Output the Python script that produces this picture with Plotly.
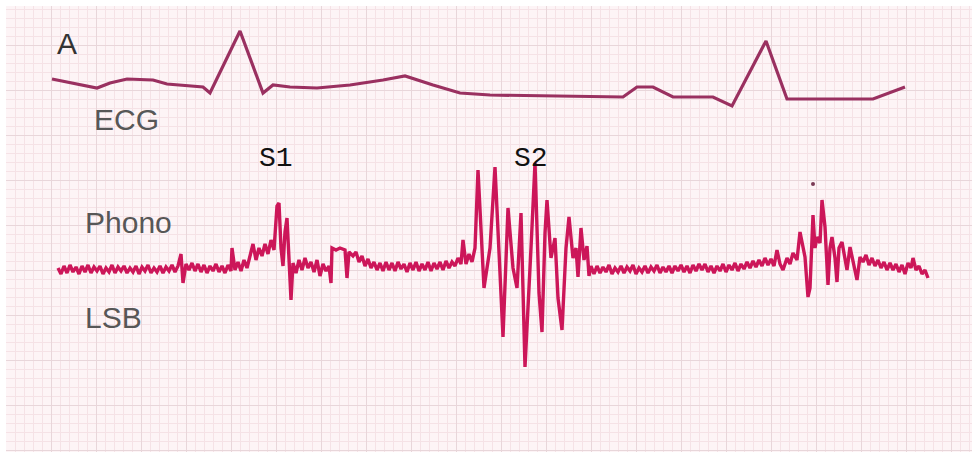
import plotly.graph_objects as go

# ECG lead: time (ms) and voltage (mV)
ecg_t = [52, 97, 110, 127, 153, 167, 203, 210, 240, 263, 273, 290, 317, 350, 383,
         405, 433, 460, 490, 623, 637, 653, 673, 713, 732, 766, 787, 873, 905]
ecg_mv = [0.18, 0.00, 0.10, 0.18, 0.16, 0.08, 0.02, -0.10, 1.14, -0.10, 0.06, 0.02,
          0.00, 0.06, 0.16, 0.24, 0.06, -0.10, -0.14, -0.18, 0.02, 0.02, -0.18,
          -0.18, -0.36, 0.94, -0.22, -0.22, 0.02]

# Phonocardiogram (left sternal border): (time ms, amplitude) samples by segment
pre_s1 = [(58, 0), (61, -6), (64, 2), (67, -5), (70, 3), (73, -4), (76, 1), (79, -6),
          (82, 2), (85, -4), (88, 3), (91, -5), (94, 1), (97, -3), (100, 2), (103, -6),
          (106, 0), (109, -4), (112, 3), (115, -5), (118, 1), (121, -3), (124, 2),
          (127, -5), (130, 0), (133, -4), (136, 2), (139, -6), (142, 1), (145, -3),
          (148, 3), (151, -5), (154, 0), (157, -4), (160, 2), (163, -5), (166, 1),
          (169, -3), (172, 3), (175, -4), (178, 2), (181, 14), (183, -15), (186, 4),
          (189, -2), (192, 5), (195, -3), (198, 4), (201, -4), (204, 3), (207, -5),
          (210, 2), (213, -3), (216, 4), (219, -4), (222, 2), (225, -5), (228, 3),
          (231, -3), (232, 20), (235, -2), (238, 6), (241, -3), (244, 8), (247, 0),
          (250, 12)]
s1 = [(253, 24), (256, 8), (259, 20), (262, 12), (265, 24), (268, 14), (271, 28),
      (274, 18), (277, 62), (279, 65), (281, 20), (283, 2), (285, 36), (287, 50),
      (289, 10), (291, -32), (293, 5), (296, -5), (299, 8), (302, -2), (305, 10),
      (308, 0), (311, 6), (314, -4), (317, 8), (320, -8), (323, 4), (326, -3),
      (329, 2), (331, -15), (332, 20), (336, 18), (340, 20), (345, 18), (347, -10),
      (349, 16), (353, 12), (356, 16), (359, 6), (362, 12), (365, 2), (368, 9),
      (371, 0), (374, 6), (377, -2), (380, 5), (383, -3)]
systole = [(386, 6), (389, -2), (392, 5), (395, -3), (398, 6), (401, -1), (404, 4),
           (407, -4), (410, 5), (413, -2), (416, 6), (419, -3), (422, 4), (425, -2),
           (428, 6), (431, -3), (434, 5), (437, -1), (440, 6), (443, -2), (446, 7),
           (449, 0), (452, 6), (455, 2), (458, 10), (461, 4)]
s2 = [(463, 28), (466, 4), (469, 14), (472, 6), (475, 20), (478, 98), (484, -20),
      (490, 20), (495, 101), (503, -69), (508, 60), (513, 0), (517, -20), (521, 55),
      (525, -99), (531, 20), (535, 105), (539, -25), (542, -64), (545, 35), (547, 68),
      (551, 10), (555, 30), (558, -30), (562, -62), (566, 20), (569, 51), (573, 10),
      (576, 20), (578, -9), (581, 40), (584, 8), (587, 22), (589, -8), (591, 2)]
diastole = [(594, -6), (597, 2), (600, -5), (603, 1), (606, -4), (609, 3), (612, -6),
            (615, 0), (618, -4), (621, 2), (624, -5), (627, 1), (630, -3), (633, 3),
            (636, -6), (639, 0), (642, -4), (645, 2), (648, -5), (651, 1), (654, -3),
            (657, 3), (660, -5), (663, 1), (666, -4), (669, 2), (672, -5), (675, 2),
            (678, -3), (681, 3), (684, -4), (687, 2), (690, -5), (693, 3), (696, -3),
            (699, 4), (702, -2), (705, 4), (708, -4), (711, 2), (714, -5), (717, 2),
            (720, -3), (723, 4), (726, -4), (729, 3), (732, -2), (735, 5), (738, -3),
            (741, 4), (744, -1), (747, 6), (750, 0), (753, 7), (756, 1), (759, 8),
            (762, 2), (765, 10), (768, 3), (771, 9), (774, 2), (777, 18), (780, 4),
            (783, -2)]
s1_next = [(787, 10), (790, 4), (793, 15), (797, 8), (800, 36), (803, 20), (805, 11),
           (808, -29), (810, -20), (813, 53), (815, 20), (817, 31), (820, 25),
           (822, 68), (825, 41), (828, -17), (830, 20), (832, 31), (835, 10),
           (837, -14), (839, 20), (842, 26), (845, 8), (847, -2), (850, 21), (853, 5),
           (857, -12), (860, 11), (863, 6), (866, 13), (869, 3), (872, 10), (875, 2),
           (878, 8), (881, 0), (884, 6), (887, -2), (890, 5), (893, -2), (896, 4),
           (899, -4), (902, 3), (905, -6), (908, 5), (911, 0), (913, 10), (916, -2),
           (919, 2), (922, -6), (925, -2), (928, -10)]
stray_dot = [(813, 84)]

# Trace labels: (text, time ms, phono-axis position)
side_labels = [("A", 67, 225), ("ECG", 126, 149), ("Phono", 128, 46), ("LSB", 113, -49)]
sound_labels = [("S1", 276, 110), ("S2", 531, 110)]

phono = pre_s1 + s1 + systole + s2 + diastole + s1_next
phono_t = [p[0] for p in phono]
phono_amp = [p[1] for p in phono]

fig = go.Figure()
fig.add_trace(go.Scatter(
    x=phono_t, y=phono_amp, mode="lines", yaxis="y",
    line=dict(color="#cc1659", width=3.4), hoverinfo="skip"))
fig.add_trace(go.Scatter(
    x=[p[0] for p in stray_dot], y=[p[1] for p in stray_dot], mode="markers",
    yaxis="y", marker=dict(color="#7a3a55", size=4), hoverinfo="skip"))
fig.add_trace(go.Scatter(
    x=ecg_t, y=ecg_mv, mode="lines", yaxis="y2",
    line=dict(color="#9a3060", width=3.2), hoverinfo="skip"))

annotations = []
for text, t, a in side_labels:
    annotations.append(dict(
        text=text, x=t, y=a, xref="x", yref="y", showarrow=False,
        font=dict(family="Liberation Sans, Arial, sans-serif", size=30,
                  color="#333333" if text == "A" else "#575757")))
for text, t, a in sound_labels:
    annotations.append(dict(
        text=text, x=t, y=a, xref="x", yref="y", showarrow=False,
        font=dict(family="Liberation Mono, Courier New, monospace", size=28,
                  color="#111111")))

fig.update_layout(
    width=976, height=455,
    margin=dict(l=6, r=4, t=6, b=3),
    paper_bgcolor="#ffffff",
    plot_bgcolor="#fdf4f6",
    showlegend=False,
    annotations=annotations,
    xaxis=dict(range=[6, 972], showticklabels=False, zeroline=False, ticks="",
               showgrid=True, gridcolor="#e8d6da", gridwidth=1, tick0=6, dtick=45,
               minor=dict(showgrid=True, gridcolor="#f5e2e6", dtick=9, tick0=6)),
    yaxis=dict(range=[-184, 262], showticklabels=False, zeroline=False, ticks="",
               showgrid=True, gridcolor="#e8d6da", gridwidth=1, tick0=-182, dtick=45,
               minor=dict(showgrid=True, gridcolor="#f5e2e6", dtick=9, tick0=-182)),
    yaxis2=dict(range=[-7.28, 1.64], overlaying="y", showticklabels=False,
                zeroline=False, showgrid=False, ticks=""),
)

fig.write_html("out.html")
